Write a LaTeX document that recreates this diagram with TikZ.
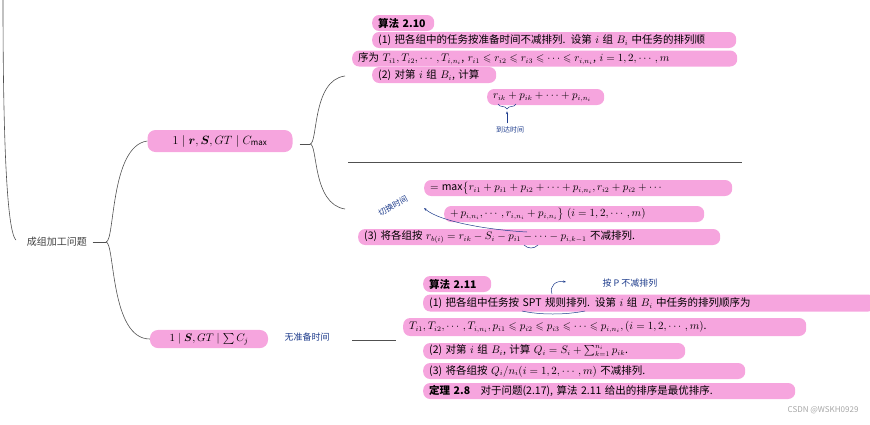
\documentclass[tikz,border=0pt]{standalone}
\usepackage{fontspec}
\usepackage{amsmath,amssymb}
\setmainfont{Noto Sans CJK SC}
\usetikzlibrary{arrows.meta}
\definecolor{pk}{RGB}{246,165,222}
\definecolor{hand}{RGB}{30,60,140}
\definecolor{ln}{RGB}{80,80,80}
\tikzset{
 pkb/.style={fill=pk, rounded corners=7pt, inner xsep=6pt, inner ysep=0pt, minimum height=16pt, anchor=west, align=left, font=\fontsize{10.5}{12}\selectfont},
 br/.style={draw=ln, line width=0.6pt},
 hw/.style={text=hand, font=\fontsize{9}{10}\selectfont\itshape},
}
\begin{document}
\begin{tikzpicture}[x=1pt,y=-1pt]
\useasboundingbox (0,0) rectangle (870,424);
% root
\node[font=\fontsize{10}{12}\selectfont, text=ln!80!black] (root) at (57,242) {成组加工问题};
\draw[br] (3,0) .. controls (3,100) and (5,230) .. (16,240);
\coordinate (rj) at (106,242);
\draw[br] (root.east) ++(2,0) -- (rj);
% level 1
\node[fill=pk, rounded corners=8pt, minimum width=145pt, minimum height=22pt, font=\fontsize{12}{14}\selectfont] (n1) at (220,141) {$1\mid \boldsymbol{r},\boldsymbol{S},GT\mid C_{\max}$};
\node[fill=pk, rounded corners=8pt, minimum width=118pt, minimum height=18pt, font=\fontsize{11}{13}\selectfont] (n2) at (209,339) {$1\mid \boldsymbol{S},GT\mid \sum C_j$};
\draw[br] (rj) .. controls (115,242) and (110,146) .. (n1.west);
\draw[br] (rj) .. controls (115,242) and (110,339) .. (n2.west);
% n1 branches
\coordinate (j1) at (310,144);
\draw[br] (n1.east) ++(7,3) -- (j1);
\draw[br] (j1) .. controls (318,144) and (312,80) .. (345,76);
\draw[br] (j1) .. controls (318,144) and (312,204) .. (345,209);
\draw[br] (348,162) -- (742,162);
% top block
\node[pkb, text width=50pt] (a1) at (372,23) {\textbf{算法 2.10}};
\node[pkb, text width=352pt] (a2) at (372,40) {(1) 把各组中的任务按准备时间不减排列. 设第 $i$ 组 $B_i$ 中任务的排列顺};
\node[pkb, text width=373pt] (a3) at (352,58.5) {序为 $T_{i1},T_{i2},\cdots,T_{i,n_i}$, $r_{i1}\leqslant r_{i2}\leqslant r_{i3}\leqslant\cdots\leqslant r_{i,n_i}$, $i=1,2,\cdots,m$};
\node[pkb, text width=112pt] (a4) at (372,75) {(2) 对第 $i$ 组 $B_i$, 计算};
\node[pkb, text width=105pt] (a5) at (487,97) {$r_{ik}+p_{ik}+\cdots+p_{i,n_i}$};
\node[hw, font=\fontsize{7}{8}\selectfont] (h1) at (510,130) {到达时间};
\draw[hand, line width=0.5pt] (498,104) .. controls (500,108) and (505,105) .. (507,109) .. controls (509,105) and (514,108) .. (516,104);
\draw[hand, -{Stealth[length=3pt]}, line width=0.5pt] (h1.north) ++(-3,0) -- ++(0,-12);
% middle block
\node[pkb, text width=296pt] (b1) at (424,188) {$=\max\bigl\{r_{i1}+p_{i1}+p_{i2}+\cdots+p_{i,n_i},r_{i2}+p_{i2}+\cdots$};
\node[pkb, text width=248pt] (b2) at (444,214) {$+\,p_{i,n_i},\cdots,r_{i,n_i}+p_{i,n_i}\bigr\}\ (i=1,2,\cdots,m)$};
\node[pkb, text width=350pt] (b3) at (358,237) {(3) 将各组按 $r_{b(i)}=r_{ik}-S_i-p_{i1}-\cdots-p_{i,k-1}$ 不减排列.};
\node[hw, rotate=28, font=\fontsize{8}{9}\selectfont\itshape] (h2) at (393,206) {切换时间};
\draw[hand, -{Stealth[length=3pt]}, line width=0.5pt] (527,232) .. controls (490,230) and (440,222) .. (424,208);
\draw[hand, line width=0.5pt] (524,245) .. controls (528,249) and (534,249) .. (538,245);
% bottom
\node[hw] (h3) at (307,337) {无准备时间};
\draw[br] (352,340) -- (396,340);
\node[pkb, text width=56pt] (c1) at (423,284) {\textbf{算法 2.11}};
\node[pkb, text width=440pt, minimum height=17pt] (c2) at (423,303) {(1) 把各组中任务按 SPT 规则排列. 设第 $i$ 组 $B_i$ 中任务的排列顺序为};
\node[pkb, text width=391pt, minimum height=18pt] (c3) at (403,327) {$T_{i1},T_{i2},\cdots,T_{i,n_i},p_{i1}\leqslant p_{i2}\leqslant p_{i3}\leqslant\cdots\leqslant p_{i,n_i},(i=1,2,\cdots,m)$.};
\node[pkb, text width=250pt] (c4) at (423,351) {(2) 对第 $i$ 组 $B_i$, 计算 $Q_i=S_i+\sum_{k=1}^{n_i}p_{ik}$.};
\node[pkb, text width=310pt] (c5) at (423,371) {(3) 将各组按 $Q_i/n_i(i=1,2,\cdots,m)$ 不减排列.};
\node[pkb, text width=360pt] (c6) at (423,391) {\textbf{定理 2.8}\quad 对于问题(2.17), 算法 2.11 给出的排序是最优排序.};
\node[hw] (h4) at (630,283) {按 P 不减排列};
\draw[hand, -{Stealth[length=3pt]}, line width=0.5pt] (552,294) .. controls (549,286) and (556,280) .. (566,282);
\draw[hand, line width=0.5pt] (522,311) .. controls (540,315) and (565,315) .. (585,311);
\node[text=gray!70, font=\fontsize{8}{9}\selectfont, anchor=east] (wm) at (862,410) {CSDN @WSKH0929};
\end{tikzpicture}
\end{document}
